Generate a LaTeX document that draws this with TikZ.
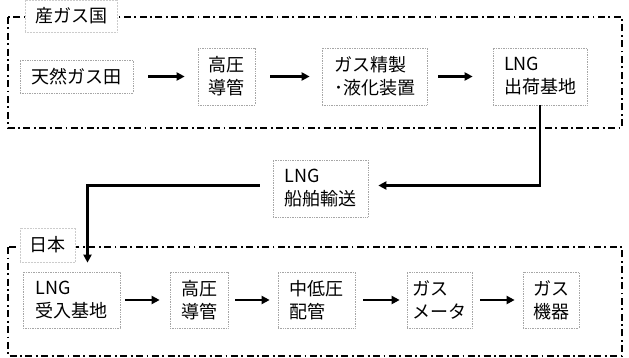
\documentclass[tikz,border=0pt]{standalone}
\usepackage{fontspec}
\setmainfont{Noto Sans CJK JP}
\usetikzlibrary{arrows.meta}
\begin{document}
\begin{tikzpicture}[x=1pt,y=-1pt,
  box/.style={draw=gray!70, densely dotted, line width=0.7pt, align=left, inner sep=2pt,
    font=\fontsize{18}{23}\selectfont, text=black},
  frame/.style={draw=black, line width=2.2pt, dash pattern=on 7pt off 3.5pt on 1.8pt off 3.5pt},
  lbl/.style={draw=gray!40, densely dotted, line width=0.5pt, fill=white, inner sep=2pt,
    font=\fontsize{18}{22}\selectfont, text=black},
  arr/.style={line width=2.4pt, -{Triangle[length=8pt,width=8pt]}}]
\useasboundingbox (0,0) rectangle (629,358);
% frames
\draw[frame] (8,17) rectangle (622,128);
\draw[frame] (8,247) rectangle (622,356);
\node[lbl, minimum width=92pt, minimum height=32pt] (lblA) at (71,16) {産ガス国};
\node[lbl, minimum width=55pt, minimum height=34pt] (lblB) at (47.5,245) {日本};
% top row
\node[box, minimum width=113pt, minimum height=33pt] (gasfield) at (76.5,76.5) {天然ガス田};
\node[box, minimum width=57pt, minimum height=57pt] (hpA) at (226.5,76.5) {高圧\\導管};
\node[box, minimum width=105pt, minimum height=57pt] (refine) at (374.5,76.5) {ガス精製\\･液化装置};
\node[box, minimum width=94pt, minimum height=57pt] (shipbase) at (540,76.5) {LNG\\出荷基地};
% ship
\node[box, minimum width=95pt, minimum height=57pt] (ship) at (320.5,188.5) {LNG\\船舶輸送};
% bottom row
\node[box, minimum width=97pt, minimum height=56pt] (recv) at (71.5,300) {LNG\\受入基地};
\node[box, minimum width=58pt, minimum height=56pt] (hpB) at (199,300) {高圧\\導管};
\node[box, minimum width=77pt, minimum height=56pt] (mlp) at (316.5,300) {中低圧\\配管};
\node[box, minimum width=65pt, minimum height=56pt] (meter) at (439.5,300) {ガス\\メータ};
\node[box, minimum width=56pt, minimum height=56pt] (appl) at (551,300) {ガス\\機器};
% arrows top
\draw[arr, shorten <=15pt, shorten >=13pt] (gasfield) -- (gasfield-|hpA.west);
\draw[arr, shorten <=15pt, shorten >=12pt] (hpA) -- (refine);
\draw[arr, shorten <=11pt, shorten >=20pt] (refine) -- (shipbase);
% transport
\draw[arr, shorten >=10pt] (shipbase.south) |- ([yshift=3pt]ship.east);
\draw[arr, shorten <=13pt, shorten >=9pt] ([yshift=3pt]ship.west) -| ([xshift=16pt]recv.north);
% arrows bottom
\draw[arr, shorten <=5pt, shorten >=10pt] (recv) -- (hpB);
\draw[arr, shorten <=7pt, shorten >=8pt] (hpB) -- (mlp);
\draw[arr, shorten <=8pt, shorten >=7pt] (mlp) -- (meter);
\draw[arr, shorten <=8pt, shorten >=8pt] (meter) -- (appl);
\end{tikzpicture}
\end{document}
